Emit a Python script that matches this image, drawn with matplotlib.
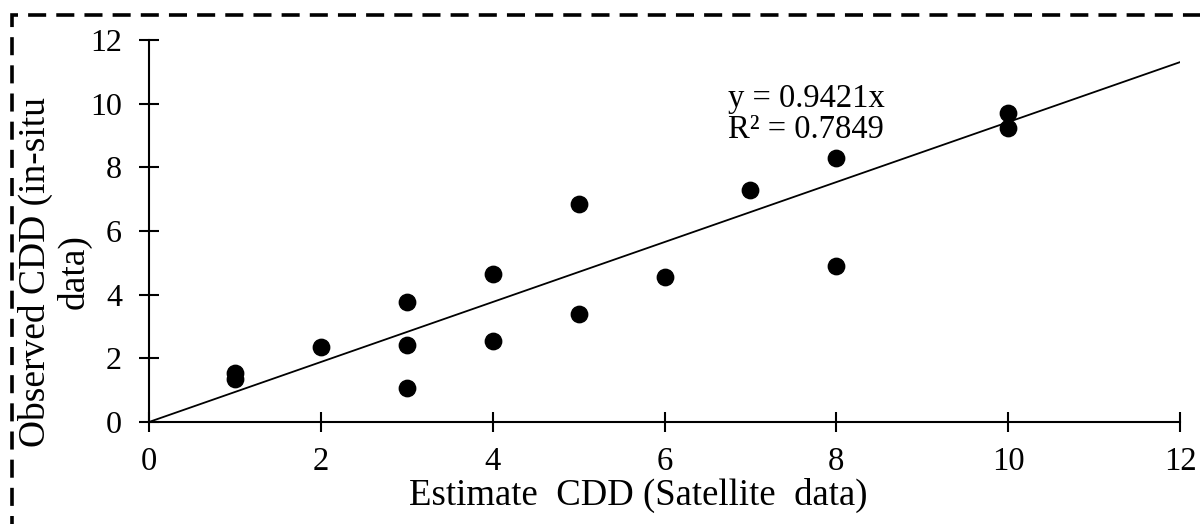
#!/usr/bin/env python3

import matplotlib
matplotlib.use("Agg")
import matplotlib.pyplot as plt
from matplotlib.patches import Rectangle

# Satellite estimate vs in-situ observation of CDD
est_cdd = [1, 1, 2, 3, 3, 3, 4, 4, 5, 5, 6, 7, 8, 8, 10, 10]
obs_cdd = [1.55, 1.35, 2.37, 3.78, 2.42, 1.06, 4.64, 2.55, 6.86, 3.4, 4.56, 7.3, 8.3, 4.9, 9.7, 9.25]

# Linear trend through the origin
slope = 0.9421
r2 = 0.7849
fit_x = [0, 12]

ticks = [0, 2, 4, 6, 8, 10, 12]

plt.rcParams["font.family"] = ["Liberation Serif", "DejaVu Serif"]

fig = plt.figure(figsize=(12, 5.24), dpi=100)
ax = fig.add_axes([0.1242, 0.1947, 0.8592, 0.7290])

ax.plot(fit_x, [slope * x for x in fit_x], color="black", linewidth=1.3, zorder=2)
ax.plot(est_cdd, obs_cdd, "o", color="black", markersize=11.8, zorder=3)

ax.text(6.74, 10.62, "y = " + str(slope) + "x\nR² = " + str(r2),
        ha="left", va="top", fontsize=23.5, linespacing=1.0)

ax.set_xlim(0, 12)
ax.set_ylim(0, 12)
ax.set_xticks(ticks)
ax.set_yticks(ticks)
ax.spines["top"].set_visible(False)
ax.spines["right"].set_visible(False)
for s in ["left", "bottom"]:
    ax.spines[s].set_linewidth(1.5)
ax.tick_params(direction="inout", length=15, width=1.5)
ax.tick_params(axis="x", labelsize=23.5, pad=10)
ax.tick_params(axis="y", labelsize=23, pad=12)

ax.set_xlabel("Estimate  CDD (Satellite  data)", fontsize=26.5)
ax.xaxis.set_label_coords(0.474, -0.146)
ax.set_ylabel("Observed CDD (in-situ\ndata)", fontsize=27, linespacing=1.1)
ax.yaxis.set_label_coords(-0.056, 0.393)

# Dashed frame around the chart
frame = Rectangle((12 / 1200, -0.2), 1.2, 1.2 - 15 / 524, transform=fig.transFigure,
                  fill=False, edgecolor="black", linewidth=2.6,
                  linestyle=(0, (5.0, 2.8)), zorder=0)
fig.patches.append(frame)

plt.savefig("out.png", format="png", dpi=100)
